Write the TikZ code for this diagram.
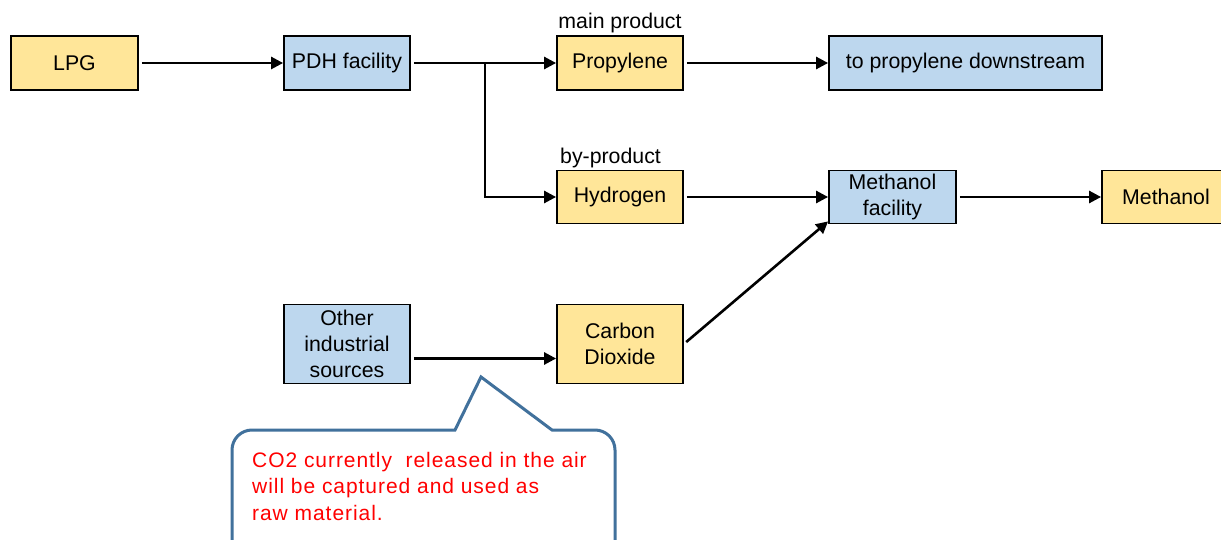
\documentclass[tikz,border=0pt]{standalone}
\usepackage{fontspec}
\setmainfont{Liberation Sans}
\newfontfamily\notefont[LetterSpace=4.5]{Liberation Sans}
\usetikzlibrary{arrows.meta}
\definecolor{boxyellow}{HTML}{FFE699}
\definecolor{boxblue}{HTML}{BDD7EE}
\definecolor{calloutblue}{HTML}{41719C}
\definecolor{notered}{HTML}{FF0000}
\tikzset{
  box/.style={draw=black, line width=1.8pt, minimum width=126pt, minimum height=54pt, inner sep=2pt, align=center, font=\fontsize{21.3}{26}\selectfont},
  ybox/.style={box, fill=boxyellow},
  bbox/.style={box, fill=boxblue},
  arr/.style={line width=2.6pt, -{Triangle[length=12pt,width=12pt]}, shorten <=3pt},
  lbl/.style={inner sep=0pt, font=\fontsize{21.3}{26}\selectfont},
  callout/.style={draw=calloutblue, line width=3pt, fill=white},
}
\begin{document}
\begin{tikzpicture}[x=1pt,y=-1pt]
\clip (0,0) rectangle (1221,540);
\fill[white] (0,0) rectangle (1221,540);
% nodes
\node[ybox, minimum width=127pt] (lpg) at (74.5,63) {LPG};
\node[bbox] (pdh) at (347,63) {PDH facility};
\node[ybox] (prop) at (620,63) {Propylene};
\node[bbox, minimum width=273pt] (down) at (965.5,63) {to propylene downstream};
\node[ybox, minimum height=53pt] (hyd) at (620,197) {Hydrogen};
\node[bbox, minimum width=127pt, minimum height=53pt] (mfac) at (892.5,197) {Methanol\\facility};
\node[ybox, minimum width=128pt, minimum height=53pt] (meth) at (1166,197) {Methanol};
\node[bbox, minimum height=79pt] (oth) at (347,344) {Other\\industrial\\sources};
\node[ybox, minimum height=79pt] (co2) at (620,344) {Carbon\\Dioxide};
% labels
\node[lbl, anchor=base] (mainlbl) at (620,29) {main product};
\node[lbl, anchor=base west] (bylbl) at (560,164) {by-product};
% connectors
\coordinate (br) at (485,63);
\draw[arr] (lpg.east) -- (pdh.west);
\draw[arr] (pdh.east) -- (prop.west);
\draw[arr, shorten <=0pt] (br) |- (hyd.west);
\draw[arr] (prop.east) -- (down.west);
\draw[arr] (hyd.east) -- (mfac.west);
\draw[arr] (mfac.east) -- (meth.west);
\draw[arr] ([yshift=-14.5pt]oth.east) -- ([yshift=-14.5pt]co2.west);
\draw[arr] (co2.east) -- ([yshift=3pt]mfac.south west);
% callout
\coordinate (tip) at (481,377);
\draw[callout] (tip) -- (552,430) [rounded corners=20pt] -- (615,430) -- (615,575) -- (232,575) -- (232,430) [sharp corners] -- (455,430) -- cycle;
\node[inner sep=0pt, anchor=base west, align=left, text=notered, font=\notefont\fontsize{21}{26.5}\selectfont] (note) at (252,520) {CO2 currently~ released in the air\\will be captured and used as\\raw material.};
\end{tikzpicture}
\end{document}
